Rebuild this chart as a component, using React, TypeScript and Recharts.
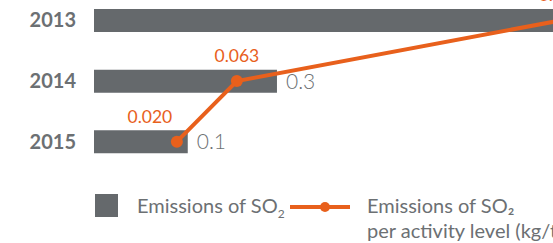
import React from 'react';
import { ComposedChart, Bar, Line, XAxis, YAxis, LabelList } from 'recharts';

const years = ['2013', '2014', '2015'];
const emissions = [0.8, 0.285, 0.146];
const intensity = [0.2954, 0.063, 0.02];

const GRAY = '#65696c';
const TEXT = '#6c7073';
const ORANGE = '#e8601c';
const FONT = 'Lato, "Noto Sans", sans-serif';

const data = years.map((year, i) => ({
    year,
    emissions: emissions[i],
    intensity: intensity[i],
}));

// 2015 label sits left of its point so it clears the line
const labelShift: Record<number, number> = { 2: -27 };

const IntensityLabel = (props: any) => {
    const { x, y, index, value } = props;
    return (
        <text
            x={x + (labelShift[index] || 0)}
            y={y - 19}
            textAnchor="middle"
            fill={ORANGE}
            fontSize={17.5}
            fontFamily={FONT}
        >
            {Number(value).toFixed(3)}
        </text>
    );
};

export default function App() {
    return (
        <div style={{ position: 'absolute', left: 0, top: 0, width: 553, height: 243, overflow: 'hidden', background: '#fff', fontFamily: FONT }}>
            <div style={{ position: 'absolute', left: 0, top: -10 }}>
                <ComposedChart
                    layout="vertical"
                    width={760}
                    height={182}
                    data={data}
                    margin={{ top: 0, right: 24, bottom: 0, left: 0 }}
                >
                    <XAxis xAxisId="bar" type="number" domain={[0, 1]} hide />
                    <XAxis xAxisId="line" type="number" domain={[-0.0394, 0.4208]} allowDataOverflow hide />
                    <YAxis
                        type="category"
                        dataKey="year"
                        width={94}
                        axisLine={false}
                        tickLine={false}
                        tickSize={0}
                        tickMargin={18}
                        tick={{ fill: TEXT, fontSize: 20, fontWeight: 700, fontFamily: FONT }}
                    />
                    <Bar xAxisId="bar" dataKey="emissions" fill={GRAY} barSize={23} isAnimationActive={false}>
                        <LabelList
                            dataKey="emissions"
                            position="right"
                            offset={9}
                            formatter={(v: any) => Number(v).toFixed(1)}
                            fill={TEXT}
                            fontSize={21}
                            fontWeight={300}
                            fontFamily={FONT}
                        />
                    </Bar>
                    <Line
                        xAxisId="line"
                        dataKey="intensity"
                        stroke={ORANGE}
                        strokeWidth={4}
                        dot={{ r: 6, fill: ORANGE, stroke: ORANGE, strokeWidth: 0 }}
                        label={<IntensityLabel />}
                        isAnimationActive={false}
                    />
                </ComposedChart>
            </div>

            {/* legend */}
            <div style={{ position: 'absolute', left: 95, top: 194, width: 23, height: 23, background: GRAY }} />
            <div style={{ position: 'absolute', left: 137, top: 193, fontSize: 20, color: TEXT, lineHeight: '25px', whiteSpace: 'nowrap' }}>
                Emissions of SO<sub style={{ fontSize: 12 }}>2</sub>
            </div>
            <svg style={{ position: 'absolute', left: 288, top: 200 }} width={64} height={14}>
                <line x1={2} y1={7} x2={62} y2={7} stroke={ORANGE} strokeWidth={4} />
                <circle cx={37} cy={7} r={5} fill={ORANGE} />
            </svg>
            <div style={{ position: 'absolute', left: 367, top: 193, fontSize: 20, color: TEXT, lineHeight: '25px', whiteSpace: 'nowrap' }}>
                Emissions of SO₂
                <br />
                per activity level (kg/t)
            </div>
        </div>
    );
}
